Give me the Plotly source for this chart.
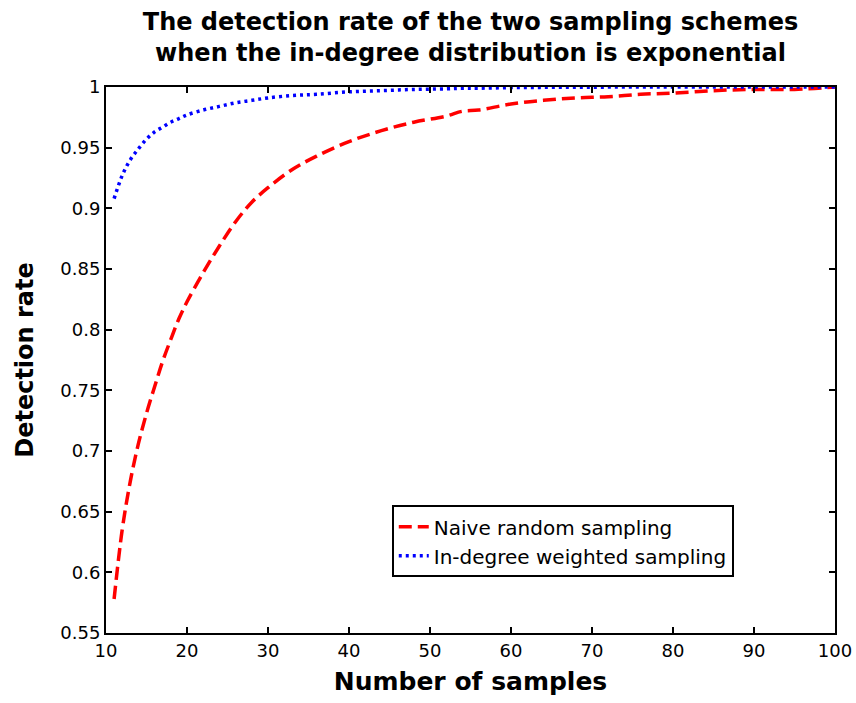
import plotly.graph_objects as go

samples = [11, 12, 13, 14, 15, 16, 17, 18, 19, 20, 22, 24, 26, 28, 30, 33, 36, 40, 44, 48,
           52, 54, 56, 60, 64, 68, 72, 76, 80, 85, 90, 95, 100]
naive = [0.578, 0.635, 0.675, 0.706, 0.731, 0.753, 0.774, 0.792, 0.809, 0.823, 0.847, 0.869,
         0.889, 0.905, 0.917, 0.932, 0.943, 0.955, 0.964, 0.971, 0.976, 0.980, 0.981, 0.986,
         0.989, 0.991, 0.992, 0.994, 0.995, 0.997, 0.998, 0.998, 1.0]
weighted = [0.908, 0.927, 0.940, 0.949, 0.957, 0.963, 0.967, 0.971, 0.974, 0.977, 0.981, 0.984,
            0.987, 0.989, 0.991, 0.993, 0.994, 0.996, 0.997, 0.998, 0.9985, 0.999, 0.999, 0.9995,
            0.9997, 0.9998, 0.9999, 1.0, 1.0, 1.0, 1.0, 1.0, 1.0]

FONT = "DejaVu Sans"

fig = go.Figure()
fig.add_trace(go.Scatter(x=samples, y=naive, mode="lines", name="Naive random sampling",
                         line=dict(color="#ff0000", width=3.5, dash="13px,6px", shape="spline")))
fig.add_trace(go.Scatter(x=samples, y=weighted, mode="lines", name="In-degree weighted sampling",
                         line=dict(color="#0000ff", width=3.5, dash="3px,4px", shape="spline")))

axis_common = dict(showline=True, linecolor="black", linewidth=2, mirror="ticks",
                   ticks="inside", ticklen=6, tickwidth=1.5, tickcolor="black",
                   showgrid=False, zeroline=False, automargin=False,
                   tickfont=dict(family=FONT, size=18, color="black"))

fig.update_layout(
    width=856, height=703,
    margin=dict(l=106, r=21, t=87, b=70),
    paper_bgcolor="white", plot_bgcolor="white",
    title=dict(text="<b>The detection rate of the two sampling schemes<br>when the in-degree distribution is exponential</b>",
               x=(106 + 835) / 2 / 856, xanchor="center",
               yref="container", y=1 - 30 / 703, yanchor="middle",
               font=dict(family=FONT, size=24, color="black")),
    xaxis=dict(range=[10, 100], dtick=10, tick0=10,
               title=dict(text="<b>Number of samples</b>", standoff=13,
                          font=dict(family=FONT, size=25, color="black")),
               **axis_common),
    yaxis=dict(range=[0.55, 1], dtick=0.05, tick0=0.55,
               title=dict(text="<b>Detection rate</b>", standoff=20,
                          font=dict(family=FONT, size=24, color="black")),
               **axis_common),
    legend=dict(x=0.392, y=0.234, xanchor="left", yanchor="top",
                bgcolor="white", bordercolor="black", borderwidth=2,
                font=dict(family=FONT, size=20, color="black"),
                tracegroupgap=0),
    showlegend=True,
)

fig.write_html("out.html")
